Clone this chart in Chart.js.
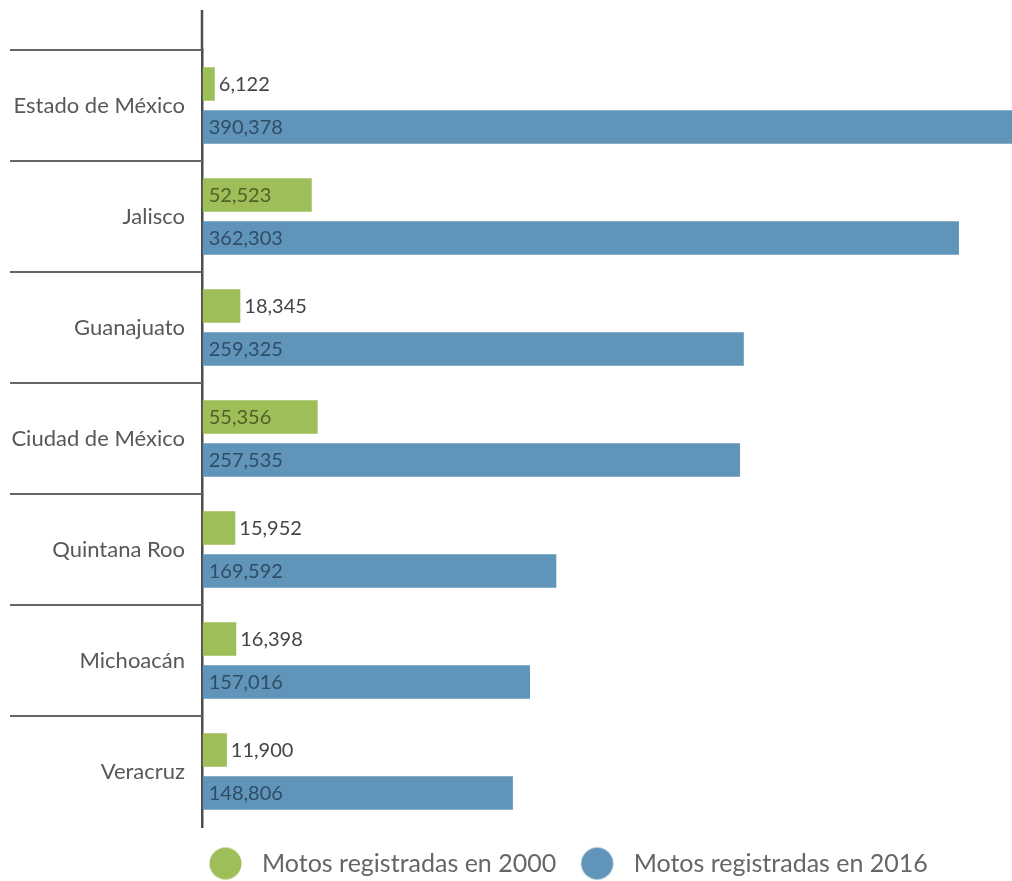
<!DOCTYPE html>
<html>
<head>
<meta charset="utf-8">
<script src="https://cdn.jsdelivr.net/npm/chart.js@4/dist/chart.umd.min.js"></script>
<style>
html,body{margin:0;padding:0;background:#ffffff;overflow:hidden;}
canvas{display:block;}
</style>
</head>
<body>
<canvas id="c" width="1012" height="881"></canvas>
<script>
// ---- data ----
const categories = ["Estado de México", "Jalisco", "Guanajuato", "Ciudad de México", "Quintana Roo", "Michoacán", "Veracruz"];
const motos2000 = [6122, 52523, 18345, 55356, 15952, 16398, 11900];
const motos2016 = [390378, 362303, 259325, 257535, 169592, 157016, 148806];
const seriesNames = ["Motos registradas en 2000", "Motos registradas en 2016"];
const xMax = 387700;
const xStep = 50000;

// ---- style ----
const GREEN = '#9dbe58';
const BLUE = '#6194b9';
const FONT = 'Lato, "Liberation Sans", sans-serif';

function legendDot(color) {
  const c = document.createElement('canvas');
  c.width = 50; c.height = 34;
  const g = c.getContext('2d');
  g.fillStyle = color;
  g.beginPath();
  g.arc(25 - 3.5, 17, 16, 0, Math.PI * 2);
  g.fill();
  return c;
}
const dots = [legendDot(GREEN), legendDot(BLUE)];

const fmt = v => v.toLocaleString('en-US');

const decorPlugin = {
  id: 'decor',
  afterLayout(chart) {
    if (chart.legend) { chart.legend.left = 184.5; }
  },
  afterDraw(chart) {
    const ctx = chart.ctx;
    const area = chart.chartArea;
    const xs = chart.scales.x, ys = chart.scales.y;
    ctx.save();
    // vertical grid lines extended above the plot
    ctx.strokeStyle = '#c8c8c8';
    ctx.lineWidth = 1.5;
    xs.ticks.forEach(t => {
      if (t.value <= 0) return;
      const px = Math.round(xs.getPixelForValue(t.value)) + 0.5;
      ctx.beginPath(); ctx.moveTo(px, 10); ctx.lineTo(px, area.top); ctx.stroke();
    });
    // axis line extension
    ctx.strokeStyle = '#4d4d4d';
    ctx.lineWidth = 2.5;
    ctx.beginPath(); ctx.moveTo(area.left, 10); ctx.lineTo(area.left, area.top + 1); ctx.stroke();
    // category separators on the label side
    const step = ys.getPixelForValue(1) - ys.getPixelForValue(0);
    ctx.strokeStyle = '#666666';
    ctx.lineWidth = 2;
    categories.forEach((c, i) => {
      const py = Math.round(ys.getPixelForValue(i) - step / 2);
      ctx.beginPath(); ctx.moveTo(10, py); ctx.lineTo(area.left, py); ctx.stroke();
    });
    ctx.restore();
  },
  afterDatasetsDraw(chart) {
    const ctx = chart.ctx;
    ctx.save();
    ctx.font = '20px ' + FONT;
    ctx.textBaseline = 'middle';
    ctx.textAlign = 'left';
    chart.data.datasets.forEach((ds, di) => {
      const meta = chart.getDatasetMeta(di);
      meta.data.forEach((bar, i) => {
        const p = bar.getProps(['x', 'y', 'base'], true);
        const txt = fmt(ds.data[i]);
        const w = ctx.measureText(txt).width;
        const bw = p.x - p.base;
        if (w + 10 <= bw) {
          ctx.fillStyle = di === 0 ? '#4f6128' : '#2f4d66';
          ctx.fillText(txt, p.base + 6, p.y + 1);
        } else {
          ctx.fillStyle = '#444444';
          ctx.fillText(txt, p.x + 4, p.y + 1);
        }
      });
    });
    ctx.restore();
  }
};

new Chart(document.getElementById('c'), {
  type: 'bar',
  data: {
    labels: categories,
    datasets: [
      { label: seriesNames[0], data: motos2000, backgroundColor: GREEN, borderWidth: 0,
        barPercentage: 0.78, categoryPercentage: 0.775 },
      { label: seriesNames[1], data: motos2016, backgroundColor: BLUE, borderWidth: 0,
        barPercentage: 0.78, categoryPercentage: 0.775 }
    ]
  },
  options: {
    indexAxis: 'y',
    responsive: false,
    animation: false,
    layout: { padding: { left: 0, top: 50, right: 0, bottom: 0 } },
    scales: {
      x: {
        min: 0, max: xMax,
        ticks: { display: false, stepSize: xStep },
        afterBuildTicks: s => { s.ticks = s.ticks.filter(t => t.value % xStep === 0); },
        grid: { color: '#c8c8c8', lineWidth: 1.5, drawTicks: false },
        border: { display: false }
      },
      y: {
        ticks: { color: '#585858', font: { family: FONT, size: 22 }, padding: 17 },
        grid: { display: false, drawTicks: false },
        border: { display: true, color: '#4d4d4d', width: 2.5 },
        afterFit: s => { s.width = 202; }
      }
    },
    plugins: {
      tooltip: { enabled: false },
      legend: {
        position: 'bottom',
        align: 'start',
        maxHeight: 54,
        labels: {
          color: '#666666',
          font: { family: FONT, size: 25 },
          usePointStyle: true,
          pointStyleWidth: 41,
          padding: 24,
          generateLabels: chart => {
            const items = Chart.defaults.plugins.legend.labels.generateLabels(chart);
            items.forEach((it, i) => { it.pointStyle = dots[i]; });
            return items;
          }
        }
      }
    }
  },
  plugins: [decorPlugin]
});
</script>
</body>
</html>
